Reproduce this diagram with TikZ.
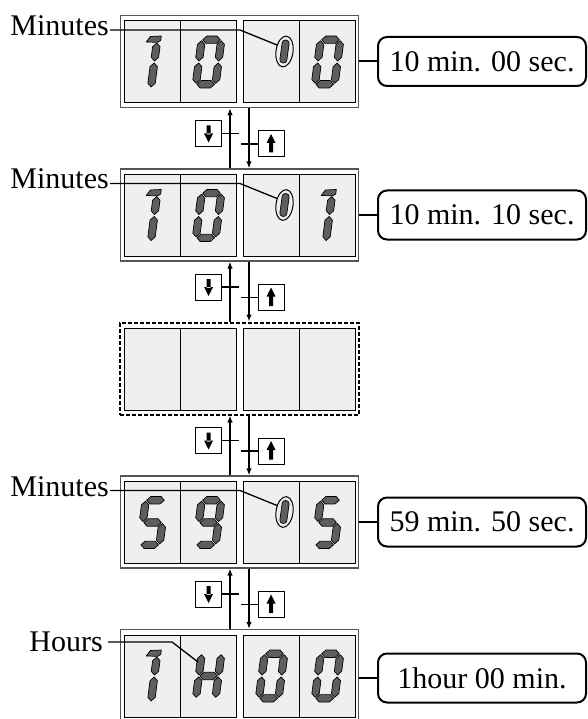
\documentclass[tikz,border=0pt]{standalone}
\usepackage{fontspec}
\setmainfont{Liberation Serif}
\usetikzlibrary{arrows.meta}
\definecolor{cellgray}{HTML}{EFEFEF}
\definecolor{seggray}{HTML}{5E5E5E}
\definecolor{panelgray}{HTML}{555555}
\newcommand\bigfont{\fontsize{30}{36}\selectfont}
\tikzset{
 segstyle/.style={fill=seggray,draw=black,line width=0.7pt,line join=round},
 cellbox/.style={fill=cellgray,draw=black,line width=1pt},
 panelbox/.style={draw=panelgray,line width=1.3pt,fill=white,minimum width=238pt,minimum height=92pt,inner sep=0pt},
 dashpanel/.style={draw=black,line width=2pt,dash pattern=on 4pt off 2pt,fill=white,minimum width=239pt,minimum height=92pt,inner sep=0pt},
 valbox/.style={draw=black,line width=2pt,rounded corners=9pt,minimum width=208pt,minimum height=49pt,inner sep=0pt,font=\bigfont},
 btn/.style={draw=black,line width=1pt,minimum size=26pt,inner sep=0pt,fill=white},
 arr/.style={line width=1.8pt,-{Latex[length=7pt,width=5.5pt]}},
 tickline/.style={line width=1.5pt},
 lead/.style={line width=1.3pt},
 conn/.style={line width=2pt},
 lbl/.style={font=\bigfont,inner sep=0pt,anchor=base east},
}
% segments in local frame (y down), W=27, H=52
\def\hw{3.7}
\newcommand\segH[3]{\filldraw[segstyle] (#2,#1) -- (#2+\hw,#1-\hw) -- (#3-\hw,#1-\hw) -- (#3,#1) -- (#3-\hw,#1+\hw) -- (#2+\hw,#1+\hw) -- cycle;}
\newcommand\segV[3]{\filldraw[segstyle] (#1,#2) -- (#1+\hw,#2+\hw) -- (#1+\hw,#3-\hw) -- (#1,#3) -- (#1-\hw,#3-\hw) -- (#1-\hw,#2+\hw) -- cycle;}
\newcommand\sgA{\segH{3.7}{4.7}{22.3}}
\newcommand\sgB{\segV{23.3}{4.7}{25}}
\newcommand\sgC{\segV{23.3}{27}{47.3}}
\newcommand\sgD{\segH{48.3}{4.7}{22.3}}
\newcommand\sgE{\segV{3.7}{27}{47.3}}
\newcommand\sgF{\segV{3.7}{4.7}{25}}
\newcommand\sgG{\segH{26}{4.7}{22.3}}
\newcommand\digZero{\sgA\sgB\sgC\sgD\sgE\sgF}
\newcommand\digFive{\sgA\sgF\sgG\sgC\sgD}
\newcommand\digNine{\sgA\sgB\sgC\sgD\sgF\sgG}
\newcommand\digHH{\sgB\sgC\sgE\sgF\sgG}
\newcommand\digOne{\filldraw[segstyle] (4.5,6) -- (8,0.5) -- (18.8,0) -- (18.8,4.5) -- (16,6.3) -- cycle;
 \segV{15.2}{7}{25}\segV{15.2}{27}{51}}
% #1 cell x origin, #2 panel top, #3 digit
\newcommand\digAt[3]{\begin{scope}[shift={(#1+18.5,#2+21)},xslant=0.13] #3 \end{scope}}
\newcommand\cellsAt[1]{%
 \draw[cellbox] (124,#1+6) rectangle (180,#1+88);
 \draw[cellbox] (180,#1+6) rectangle (236,#1+88);
 \draw[cellbox] (243,#1+6) rectangle (299,#1+88);
 \draw[cellbox] (299,#1+6) rectangle (355,#1+88);}
\newcommand\smallZero[1]{%
 \draw[line width=1pt, rotate around={-8:(284.5,#1+36.5)}] (284.5,#1+36.5) ellipse [x radius=8.5pt, y radius=15.5pt];
 \filldraw[segstyle, rounded corners=3pt, rotate around={-8:(284.5,#1+36.5)}] (281,#1+25) rectangle (288,#1+48);}
\begin{document}
\begin{tikzpicture}[x=1pt,y=-1pt]
\path[use as bounding box, clip] (0,0) rectangle (588,719);
% panels
\node[panelbox] (p1) at (239.5,61.5) {};
\node[panelbox] (p2) at (239.5,215) {};
\node[dashpanel] (p3) at (239.5,368.5) {};
\node[panelbox] (p4) at (239.5,522) {};
\node[panelbox] (p5) at (239.5,675.5) {};
\foreach \T in {15,168.5,322,475.5,629} {\cellsAt{\T}}
% digits panel 1
\digAt{124}{15}{\digOne}
\digAt{180}{15}{\digZero}
\smallZero{15}
\digAt{299}{15}{\digZero}
% panel 2
\digAt{124}{168.5}{\digOne}
\digAt{180}{168.5}{\digZero}
\smallZero{168.5}
\digAt{299}{168.5}{\digOne}
% panel 4
\digAt{124}{475.5}{\digFive}
\digAt{180}{475.5}{\digNine}
\smallZero{475.5}
\digAt{299}{475.5}{\digFive}
% panel 5
\digAt{124}{629}{\digOne}
\digAt{180}{629}{\digHH}
\digAt{243}{629}{\digZero}
\digAt{299}{629}{\digZero}
% labels and leaders
\foreach \i/\T in {1/15,2/168.5,4/475.5} {
 \node[lbl] (m\i) at (109,\T+20.5) {Minutes};
 \coordinate (e\i) at (277,\T+30);
 \draw[lead] ([xshift=1pt,yshift=5.5pt]m\i.base east) -- (240,\T+15) -- (e\i);
}
\node[lbl] (h5) at (103,651) {Hours};
\coordinate (e5) at (198,662);
\draw[lead] ([xshift=5pt,yshift=9pt]h5.base east) -- (172,642) -- (e5);
% value boxes
\node[valbox] (v1) at (482,61.5) {10 min. 00 sec.};
\node[valbox] (v2) at (482,215) {10 min. 10 sec.};
\node[valbox] (v4) at (482,522) {59 min. 50 sec.};
\node[valbox] (v5) at (482,678) {1hour 00 min.};
\foreach \i in {1,2,4} {\draw[conn] (p\i.east) -- (v\i.west);}
\draw[conn] (p5.east |- v5.west) -- (v5.west);
% transitions
\coordinate (ux) at (230,0);
\coordinate (dx) at (249,0);
\foreach \i/\j/\T in {1/2/15,2/3/168.5,3/4/322,4/5/475.5} {
 \draw[arr] (p\j.north -| ux) -- (p\i.south -| ux);
 \draw[arr] (p\i.south -| dx) -- (p\j.north -| dx);
 \node[btn] (bd\i) at (208.5,\T+93+25.5) {};
 \node[btn] (bu\i) at (271,\T+93+36) {};
 \draw[tickline] (bd\i.east) -- ++(17,0);
 \draw[tickline] (bu\i.west) -- ++(-17,0);
 \fill[shift={(bd\i.center)}] (-2,-8) rectangle (2,1) (-4.5,0) -- (4.5,0) -- (0,9) -- cycle;
 \fill[shift={(bu\i.center)}] (-2,-2) rectangle (2,8.5) (-4.5,-1) -- (4.5,-1) -- (0,-10) -- cycle;
}
\end{tikzpicture}
\end{document}
